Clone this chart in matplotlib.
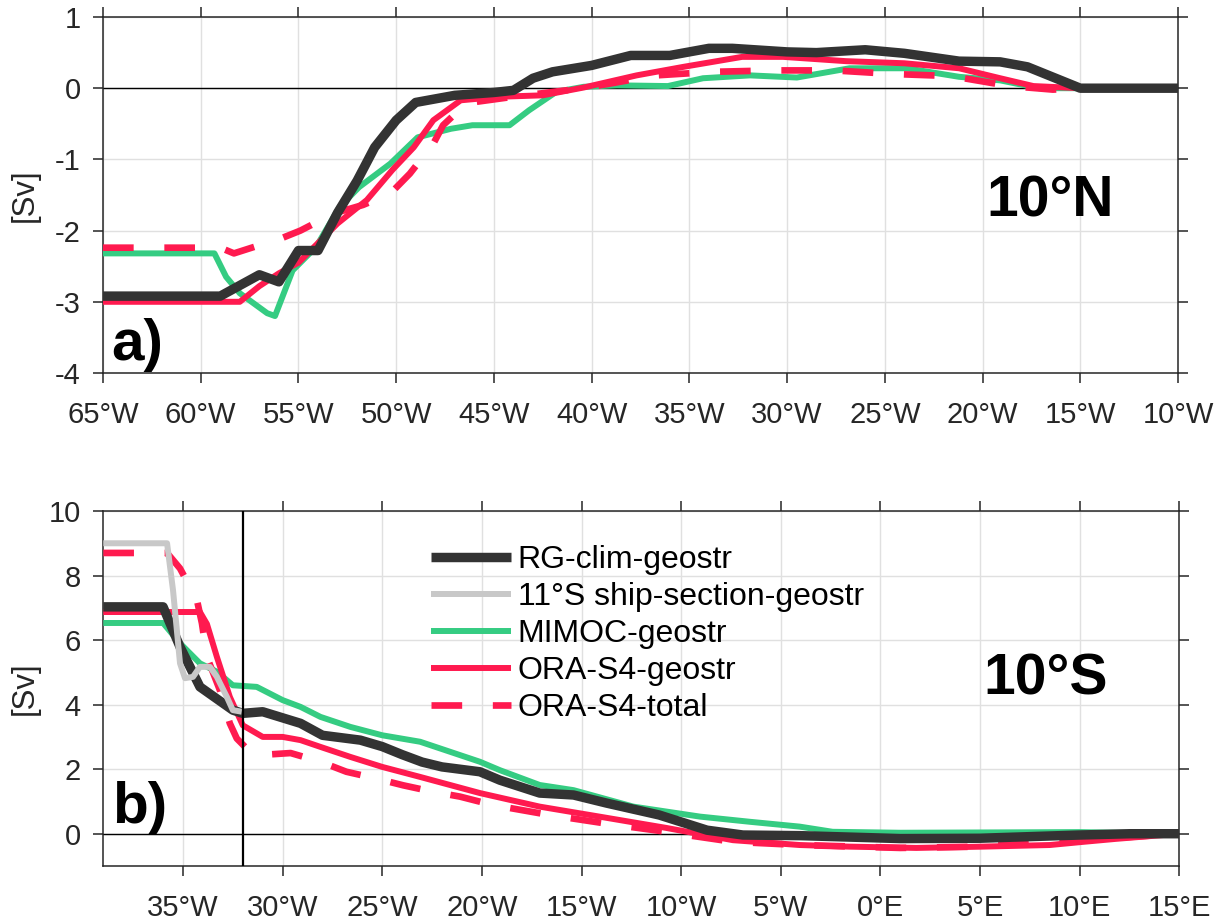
import matplotlib
matplotlib.use("Agg")
import matplotlib.pyplot as plt

plt.rcParams['font.family'] = ['Liberation Sans', 'DejaVu Sans']
plt.rcParams['axes.unicode_minus'] = False

# ---------------- 10°N section (panel a) ----------------
a_rg_lon = [-65, -59, -57, -56, -55, -54, -53, -52, -51.1, -50, -49, -47, -45, -44, -43, -42,
            -40, -38, -36, -34, -32.8, -30, -28.5, -26, -24, -21.2, -19.1, -17.7, -15, -10]
a_rg_val = [-2.92, -2.92, -2.62, -2.72, -2.28, -2.28, -1.75, -1.3, -0.83, -0.45, -0.2, -0.1,
            -0.06, -0.03, 0.14, 0.23, 0.32, 0.46, 0.46, 0.56, 0.56, 0.51, 0.5, 0.54, 0.49, 0.38,
            0.37, 0.3, 0.0, 0.0]

a_mimoc_lon = [-65, -59.3, -58.7, -58, -57.3, -56.6, -56.2, -55.3, -54.1, -52.9, -51.9, -50.3,
               -48.9, -47.2, -46.1, -44.2, -43.2, -41.8, -40.4, -38.7, -36.1, -34.3, -31.9,
               -29.5, -26.8, -23.9, -21.2, -19.1, -17.1, -15, -10]
a_mimoc_val = [-2.32, -2.32, -2.65, -2.88, -3.02, -3.16, -3.2, -2.56, -2.23, -1.67, -1.39, -1.06,
               -0.69, -0.57, -0.52, -0.52, -0.31, -0.05, 0.02, 0.04, 0.03, 0.14, 0.18, 0.15,
               0.28, 0.28, 0.16, 0.11, 0.0, 0.0, 0.0]

a_orag_lon = [-65, -58, -57, -56, -55, -53, -51.5, -50.2, -49.1, -48.1, -46.7, -44.7, -42.5,
              -40.4, -37.7, -35.3, -32.3, -30.2, -27, -24, -21.2, -19.1, -17.4, -15, -10]
a_orag_val = [-3.0, -3.0, -2.78, -2.6, -2.45, -1.9, -1.57, -1.15, -0.83, -0.45, -0.17, -0.12,
              -0.1, 0.01, 0.18, 0.3, 0.44, 0.44, 0.38, 0.35, 0.28, 0.14, 0.03, 0.0, 0.0]

a_orat_lon = [-65, -59, -58.3, -55.8, -54.9, -53.2, -51.7, -50.3, -49.3, -48.1, -47.6, -46.4,
              -44, -40.4, -36.7, -33.8, -30.7, -27.6, -24.6, -21.6, -18.6, -16.4, -15, -10]
a_orat_val = [-2.24, -2.24, -2.32, -2.1, -2.0, -1.76, -1.64, -1.48, -1.2, -0.78, -0.52, -0.21,
              -0.12, 0.0, 0.18, 0.23, 0.25, 0.25, 0.2, 0.17, 0.03, -0.02, 0.0, 0.0]

a_xticks = [-65, -60, -55, -50, -45, -40, -35, -30, -25, -20, -15, -10]
a_xticklabels = ['65°W', '60°W', '55°W', '50°W', '45°W', '40°W', '35°W', '30°W',
                 '25°W', '20°W', '15°W', '10°W']
a_yticks = [-4, -3, -2, -1, 0, 1]

# ---------------- 10°S section (panel b) ----------------
b_rg_lon = [-39, -36, -35.15, -34.15, -32.5, -32, -31, -29.1, -28, -26.1, -25, -24, -23, -22,
            -20.1, -19.1, -17.1, -15.4, -13.75, -11.1, -8.7, -6.9, -4, 1, 5, 10, 12.5, 15]
b_rg_val = [7.03, 7.03, 5.79, 4.55, 3.83, 3.73, 3.78, 3.42, 3.05, 2.9, 2.7, 2.45, 2.22, 2.07,
            1.92, 1.66, 1.26, 1.2, 0.95, 0.58, 0.11, -0.04, -0.06, -0.15, -0.14, -0.04, 0.0, 0.0]

b_ship_lon = [-39, -35.8, -35.5, -35.15, -34.9, -34.5, -34.15, -33.65, -33.3, -32.8, -32.5, -32.05]
b_ship_val = [9.0, 9.0, 7.54, 5.28, 4.82, 4.86, 5.17, 5.17, 4.86, 4.24, 3.83, 3.78]

b_mimoc_lon = [-39, -36, -35.15, -34.15, -33.3, -32.5, -31.3, -30, -29.1, -28.1, -26.6, -25,
               -23.1, -20.1, -19.1, -17.1, -15.4, -12.4, -9.05, -6.55, -4.05, -2.4, 1, 10, 15]
b_mimoc_val = [6.53, 6.53, 5.9, 5.28, 5.02, 4.6, 4.55, 4.14, 3.93, 3.62, 3.31, 3.05, 2.85,
               2.23, 1.97, 1.51, 1.35, 0.84, 0.53, 0.37, 0.22, 0.06, 0.03, 0.05, 0.0]

b_orag_lon = [-39, -34.15, -33.8, -33.3, -32.65, -32, -31, -30, -29.1, -28.1, -26.6, -25, -23.1,
              -20.1, -17.1, -14.1, -10.75, -7.4, -4.05, -1.55, 1.8, 5.1, 8.5, 10.2, 11.8, 15]
b_orag_val = [6.87, 6.87, 6.5, 5.48, 4.24, 3.36, 3.0, 3.0, 2.9, 2.69, 2.38, 2.07, 1.76, 1.26,
              0.84, 0.53, 0.18, -0.2, -0.35, -0.4, -0.44, -0.4, -0.35, -0.25, -0.16, 0.0]

b_orat_lon = [-39, -35.8, -35.15, -34.3, -34.05, -33.8, -33.15, -32.65, -32.3, -31.5, -31.1,
              -29.6, -28.1, -26.8, -25.3, -23.95, -22.45, -21.1, -19.45, -16.6, -13.6, -10.75,
              -9.4, -7.4, -4.05, 1, 5, 10, 15]
b_orat_val = [8.7, 8.7, 8.22, 7.24, 6.52, 5.48, 4.45, 3.42, 2.95, 2.45, 2.44, 2.5, 2.23, 1.92,
              1.71, 1.5, 1.3, 1.15, 0.89, 0.58, 0.3, 0.06, -0.07, -0.25, -0.35, -0.44, -0.4,
              -0.2, 0.0]

b_xticks = [-35, -30, -25, -20, -15, -10, -5, 0, 5, 10, 15]
b_xticklabels = ['35°W', '30°W', '25°W', '20°W', '15°W', '10°W', '5°W',
                 '0°E', '5°E', '10°E', '15°E']
b_yticks = [0, 2, 4, 6, 8, 10]
b_section_lon = -32

# ---------------- styling ----------------
C_RG = '#333333'
C_SHIP = '#c8c8c8'
C_MIMOC = '#35cc82'
C_ORA = '#ff1a4f'
TXT = '#262626'

LW_RG = 6.8
LW_THIN = 4.3
LW_DASH = 4.8
DASH = (4.6, 4.6)

fig = plt.figure(figsize=(12.27, 9.24), dpi=100)
ax_a = fig.add_axes([103 / 1227, 1 - 373 / 924, 1075 / 1227, 356 / 924])
ax_b = fig.add_axes([103.3 / 1227, 1 - 866 / 924, 1076 / 1227, 355 / 924])


def style_axes(ax):
    ax.grid(True, color='#e0e0e0', lw=1.0, zorder=0)
    ax.set_axisbelow(True)
    for s in ax.spines.values():
        s.set_color(TXT)
        s.set_linewidth(1.1)
    ax.tick_params(axis='both', which='major', direction='out', length=7.2, width=1.1,
                   color=TXT, labelcolor=TXT, labelsize=21, top=True, right=True)
    ax.tick_params(axis='x', pad=13)
    ax.tick_params(axis='y', pad=9)


def plot_series(ax, mimoc, orat, orag, rg, ship=None):
    ax.plot(*mimoc, color=C_MIMOC, lw=LW_THIN, solid_joinstyle='round',
            solid_capstyle='butt', zorder=3, label='MIMOC-geostr')
    ax.plot(*orat, color=C_ORA, lw=LW_DASH, dashes=DASH, dash_capstyle='butt',
            zorder=4, label='ORA-S4-total')
    ax.plot(*orag, color=C_ORA, lw=LW_THIN, solid_joinstyle='round',
            solid_capstyle='butt', zorder=5, label='ORA-S4-geostr')
    ax.plot(*rg, color=C_RG, lw=LW_RG, solid_joinstyle='round',
            solid_capstyle='butt', zorder=6, label='RG-clim-geostr')
    if ship is not None:
        ax.plot(*ship, color=C_SHIP, lw=LW_THIN, solid_joinstyle='round',
                solid_capstyle='butt', zorder=7, label='11°S ship-section-geostr')


# Panel a
style_axes(ax_a)
ax_a.axhline(0, color='black', lw=1.0, zorder=2)
plot_series(ax_a, (a_mimoc_lon, a_mimoc_val), (a_orat_lon, a_orat_val),
            (a_orag_lon, a_orag_val), (a_rg_lon, a_rg_val))
ax_a.set_xlim(-65, -10)
ax_a.set_ylim(-4, 1)
ax_a.set_xticks(a_xticks)
ax_a.set_xticklabels(a_xticklabels)
ax_a.set_yticks(a_yticks)
ax_a.set_yticklabels([str(v) for v in a_yticks])
ax_a.set_ylabel('[Sv]', fontsize=22.5, color=TXT)
ax_a.yaxis.set_label_coords(-0.059, 0.5)
ax_a.text(0.881, 0.441, '10°N', transform=ax_a.transAxes, fontsize=41,
          fontweight='bold', ha='center', va='baseline', color='black')
ax_a.text(0.008, 0.036, 'a)', transform=ax_a.transAxes, fontsize=42,
          fontweight='bold', ha='left', va='baseline', color='black')

# Panel b
style_axes(ax_b)
ax_b.axhline(0, color='black', lw=1.0, zorder=2)
ax_b.axvline(b_section_lon, color='black', lw=1.6, zorder=8)
plot_series(ax_b, (b_mimoc_lon, b_mimoc_val), (b_orat_lon, b_orat_val),
            (b_orag_lon, b_orag_val), (b_rg_lon, b_rg_val),
            ship=(b_ship_lon, b_ship_val))
ax_b.set_xlim(-39, 15)
ax_b.set_ylim(-1, 10)
ax_b.set_xticks(b_xticks)
ax_b.set_xticklabels(b_xticklabels)
ax_b.set_yticks(b_yticks)
ax_b.set_yticklabels([str(v) for v in b_yticks])
ax_b.set_ylabel('[Sv]', fontsize=22.5, color=TXT)
ax_b.yaxis.set_label_coords(-0.059, 0.5)
ax_b.text(0.876, 0.482, '10°S', transform=ax_b.transAxes, fontsize=41,
          fontweight='bold', ha='center', va='baseline', color='black')
ax_b.text(0.008, 0.121, 'b)', transform=ax_b.transAxes, fontsize=42,
          fontweight='bold', ha='left', va='baseline', color='black')

handles, labels = ax_b.get_legend_handles_labels()
order = ['RG-clim-geostr', '11°S ship-section-geostr', 'MIMOC-geostr',
         'ORA-S4-geostr', 'ORA-S4-total']
hmap = dict(zip(labels, handles))
leg = ax_b.legend([hmap[k] for k in order], order, loc='upper left',
                  bbox_to_anchor=(0.305, 0.905), frameon=False, fontsize=23,
                  handlelength=2.5, handletextpad=0.2, labelspacing=0.22,
                  borderaxespad=0.0, borderpad=0.0)
for t in leg.get_texts():
    t.set_color('black')

fig.savefig('out.png', dpi=100, facecolor='white')
